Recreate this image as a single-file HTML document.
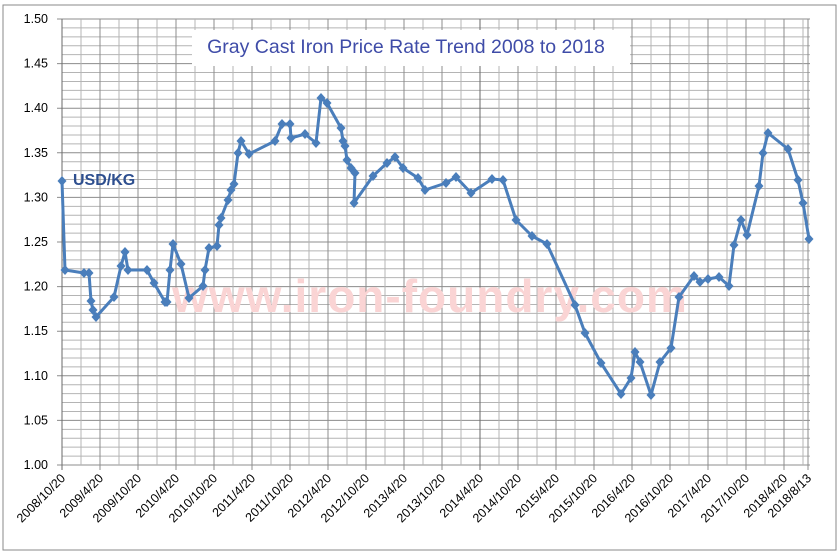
<!DOCTYPE html>
<html><head><meta charset="utf-8"><style>
html,body{margin:0;padding:0;background:#fff}
svg{display:block}
</style></head><body>
<svg id="c" width="840" height="554" xmlns="http://www.w3.org/2000/svg" font-family="Liberation Sans, DejaVu Sans, sans-serif">
<rect x="0" y="0" width="840" height="554" fill="#fff"/>
<rect x="3" y="5" width="833" height="545" fill="#fff" stroke="#8a8a8a" stroke-width="1"/>
<g id="grid"></g>
<g id="labels" font-size="12.5" fill="#000"></g>
<text x="430" y="312" font-size="46" font-weight="bold" fill="#fad4d4" text-anchor="middle" letter-spacing="1">www.iron-foundry.com</text>
<rect x="192" y="30" width="438" height="36" fill="#fff"/>
<text x="406" y="53" font-size="19.5" fill="#3f4ca8" text-anchor="middle">Gray Cast Iron Price Rate Trend 2008 to 2018</text>
<text x="73" y="185" font-size="16" font-weight="bold" fill="#2e4f8f">USD/KG</text>
<g id="series"></g>
</svg>
<script>
var NS="http://www.w3.org/2000/svg";
function el(p,t,a,txt){var e=document.createElementNS(NS,t);for(var k in a)e.setAttribute(k,a[k]);if(txt)e.textContent=txt;p.appendChild(e);return e;}
var g=document.getElementById('grid'),L=document.getElementById('labels'),S=document.getElementById('series');
var x0=62,x1=810,yT=19,yB=465;
for(var i=0;i<=50;i++){var y=yB-i*(446/50);var maj=i%5==0;
 el(g,'line',{x1:x0-(maj?5:0),x2:x1,y1:y,y2:y,stroke:maj?'#8c8c8c':'#b4b4b4','stroke-width':1});
 if(maj){el(L,'text',{x:48,y:y+4,'text-anchor':'end'},(1+i*0.01).toFixed(2));}}
var labs=['2008/10/20','2009/4/20','2009/10/20','2010/4/20','2010/10/20','2011/4/20','2011/10/20','2012/4/20','2012/10/20','2013/4/20','2013/10/20','2014/4/20','2014/10/20','2015/4/20','2015/10/20','2016/4/20','2016/10/20','2017/4/20','2017/10/20','2018/4/20'];
for(var j=0;j<labs.length;j++){var x=x0+j*38;
 el(g,'line',{x1:x,x2:x,y1:yT,y2:yB+5,stroke:(j==11||j==0)?'#6a6a6a':'#8c8c8c','stroke-width':1});
 if(x+19<x1)el(g,'line',{x1:x+19,x2:x+19,y1:yT,y2:yB,stroke:'#b4b4b4','stroke-width':1});
 el(L,'text',{x:x+4,y:yB+14,'text-anchor':'end',transform:'rotate(-45 '+(x+4)+' '+(yB+14)+')'},labs[j]);}
el(g,'line',{x1:808,x2:808,y1:yT,y2:yB+5,stroke:'#8c8c8c','stroke-width':1});
el(L,'text',{x:812,y:yB+14,'text-anchor':'end',transform:'rotate(-45 812 '+(yB+14)+')'},'2018/8/13');
var pts=[[62,181],[65,270],[84,273],[89,273],[91,301],[93,310],[96,317],[114,297],[121,266],[125,252],[128,270],[147,270],[154,283],[165,302],[167,302],[170,270],[173,244],[181,264],[189,298],[203,286],[205,270],[209,248],[217,246],[219,225],[221,218],[228,200],[231,190],[234,184],[238,153],[241,141],[249,154],[275,141],[282,124],[290,124],[291,138],[305,134],[316,143],[321,98],[327,103],[341,128],[343,141],[345,146],[347,160],[351,168],[355,173],[354,203],[373,176],[387,163],[395,157],[403,168],[418,178],[425,190],[446,183],[456,177],[471,193],[492,179],[503,180],[516,220],[532,236],[547,244],[575,305],[585,333],[601,363],[621,394],[631,378],[635,352],[640,362],[651,395],[660,362],[671,348],[679,297],[694,276],[700,282],[708,279],[719,277],[729,286],[734,245],[741,220],[747,235],[759,186],[763,153],[768,133],[788,149],[798,180],[803,203],[809,239]];
el(S,'polyline',{points:pts.map(function(p){return p.join(',')}).join(' '),fill:'none',stroke:'#4a7ebb','stroke-width':3,'stroke-linejoin':'round'});
pts.forEach(function(p){el(S,'path',{d:'M'+p[0]+' '+(p[1]-5)+'L'+(p[0]+4.5)+' '+p[1]+'L'+p[0]+' '+(p[1]+5)+'L'+(p[0]-4.5)+' '+p[1]+'Z',fill:'#4a7ebb'});});
</script>
</body></html>
